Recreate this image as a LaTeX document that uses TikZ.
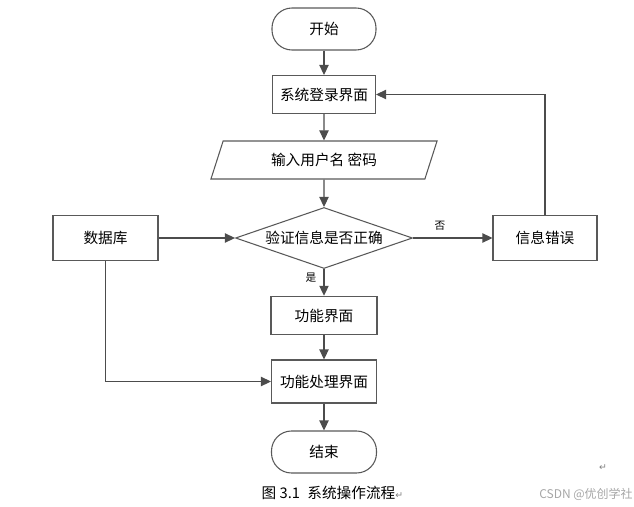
\documentclass[tikz,border=0pt]{standalone}
\usepackage{fontspec}
\setmainfont{Noto Sans CJK SC}
\newfontfamily\symfont{DejaVu Sans}
\usetikzlibrary{arrows.meta,shapes.geometric}
\tikzset{
  box/.style={draw=black!65, line width=0.8pt, minimum width=78pt, minimum height=28.5pt, inner sep=0pt, font=\fontsize{11}{13}\selectfont},
  term/.style={box, rounded corners=15pt, minimum height=31.5pt},
  flow/.style={draw=black!70, line width=0.8pt, -{Triangle[length=7.5pt,width=7pt]}},
  tag/.style={font=\fontsize{8}{9}\selectfont},
}

\begin{document}
\begin{tikzpicture}[x=0.75pt,y=-0.75pt]
\useasboundingbox (0,0) rectangle (634,506);
\node (start) at (324,29) [term, minimum width=78pt] {开始};
\node (login) at (324,94.5) [box, minimum width=77.25pt] {系统登录界面};
\node (input) at (324,160) [box, trapezium, trapezium left angle=65, trapezium right angle=115, trapezium stretches=true, minimum width=170pt, minimum height=28.5pt] {输入用户名 密码};
\node (check) at (324,238) [box, diamond, aspect=2.9, minimum width=132.75pt, minimum height=45.75pt] {验证信息是否正确};
\node (db) at (105.5,238) [box, minimum width=78.75pt, minimum height=33.75pt] {数据库};
\node (err) at (545,238) [box, minimum width=78pt, minimum height=33.75pt] {信息错误};
\node (func) at (324,315.5) [box, minimum width=79.5pt, minimum height=28.8pt] {功能界面};
\node (proc) at (324,381.5) [box, minimum width=78.75pt, minimum height=32.25pt] {功能处理界面};
\node (end) at (324,452) [term, minimum width=78.75pt] {结束};
\node (no) at (440,226) [tag] {否};
\node (yes) at (311,278) [tag] {是};
\draw [flow] (start) -- (login);
\draw [flow] (login) -- (input);
\draw [flow] (input) -- (check);
\draw [flow] (check) -- (func);
\draw [flow] (func) -- (proc);
\draw [flow] (proc) -- (end);
\draw [flow] (check) -- (err);
\draw [flow] (db) -- (check);
\draw [flow] (err.north) |- (login.east);
\draw [flow] (db.south) |- (proc.west);
\node (cap) at (257,493) [anchor=west, font=\fontsize{11}{13}\selectfont] {图 3.1\enspace 系统操作流程{\symfont\fontsize{7}{8}\selectfont\color{black!50}↵}};
\node (para) at (603,468) [font=\symfont\fontsize{7}{8}\selectfont, text=black!50] {↵};
\node (mark) at (586,494) [font=\fontsize{9}{10}\selectfont, text=black!35] {CSDN @优创学社};
\end{tikzpicture}
\end{document}
